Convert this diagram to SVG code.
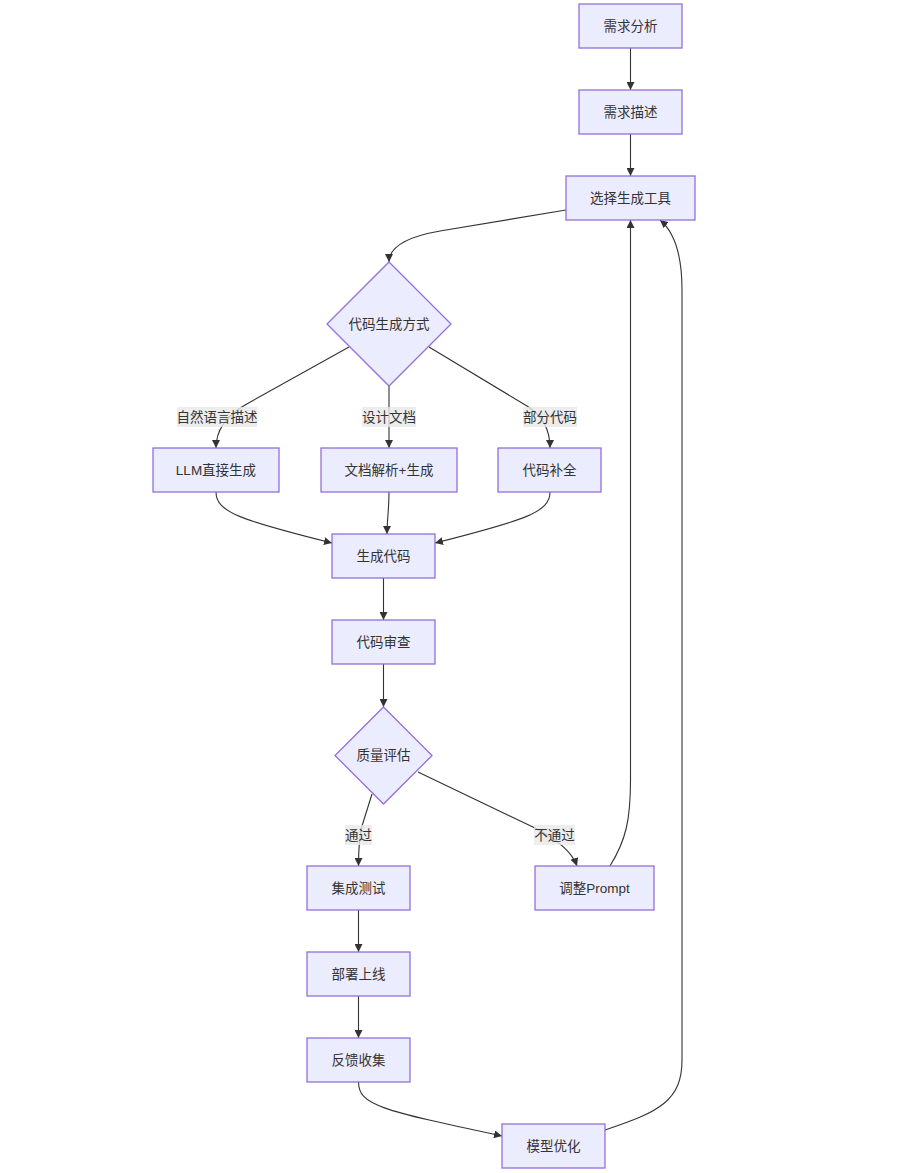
<svg xmlns="http://www.w3.org/2000/svg" width="907" height="1173" viewBox="0 0 907 1173">
<style>
.node rect,.node polygon{fill:#ECECFF;stroke:#9370DB;stroke-width:1.3}
text{font-family:"Liberation Sans","Noto Sans CJK SC",sans-serif;font-size:13.5px;fill:#333;text-anchor:middle;dominant-baseline:central}
.edge{fill:none;stroke:#333;stroke-width:1.1}
.lbl rect{fill:#e8e8e8;fill-opacity:0.8}
</style>
<defs>
<marker id="arr" viewBox="0 0 10 10" refX="10" refY="5" markerWidth="8" markerHeight="8" markerUnits="userSpaceOnUse" orient="auto">
<path d="M0,0 L10,5 L0,10 z" fill="#333"/>
</marker>
</defs>
<rect width="907" height="1173" fill="#fff"/>
<g id="connectors">
<path class="edge" marker-end="url(#arr)" d="M630.5,48 L630.5,90"/>
<path class="edge" marker-end="url(#arr)" d="M630.5,134 L630.5,176"/>
<path class="edge" marker-end="url(#arr)" d="M566,210 L440,231 Q389,240 389,262"/>
<path class="edge" marker-end="url(#arr)" d="M349,347 L245,405 Q216,422 216,448"/>
<path class="edge" marker-end="url(#arr)" d="M389,386 L389,448"/>
<path class="edge" marker-end="url(#arr)" d="M429,347 L527,406 Q550,420 550,448"/>
<path class="edge" marker-end="url(#arr)" d="M216,492 C216,512 240,520 332,543"/>
<path class="edge" marker-end="url(#arr)" d="M389,492 C389,510 387,520 387,534"/>
<path class="edge" marker-end="url(#arr)" d="M550,492 C550,512 526,520 435,543"/>
<path class="edge" marker-end="url(#arr)" d="M383.5,578 L383.5,620"/>
<path class="edge" marker-end="url(#arr)" d="M383.5,664 L383.5,707"/>
<path class="edge" marker-end="url(#arr)" d="M372,794 L362,826 Q358.5,840 358.5,866"/>
<path class="edge" marker-end="url(#arr)" d="M418,772 L535,828 Q570,846 577,866"/>
<path class="edge" marker-end="url(#arr)" d="M610,866 C626,840 630.5,820 630.5,780 L630.5,220"/>
<path class="edge" marker-end="url(#arr)" d="M358.5,910 L358.5,952"/>
<path class="edge" marker-end="url(#arr)" d="M358.5,996 L358.5,1038"/>
<path class="edge" marker-end="url(#arr)" d="M358.5,1082 C358.5,1105 380,1110 502,1136"/>
<path class="edge" marker-end="url(#arr)" d="M605,1130 C660,1112 682,1100 682,1060 L682,290 C682,250 672,230 660,220"/>
<g class="lbl"><rect x="177" y="407" width="80" height="20"/><text x="217" y="417">自然语言描述</text></g>
<g class="lbl"><rect x="362" y="407" width="54" height="20"/><text x="389" y="417">设计文档</text></g>
<g class="lbl"><rect x="523" y="407" width="54" height="20"/><text x="550" y="417">部分代码</text></g>
<g class="lbl"><rect x="345" y="825" width="27" height="20"/><text x="358.5" y="835">通过</text></g>
<g class="lbl"><rect x="534" y="825" width="41" height="20"/><text x="554.5" y="835">不通过</text></g>
</g>
<g id="n1" class="node"><rect x="579" y="4" width="103" height="44"/><text x="630.5" y="26">需求分析</text></g>
<g id="n2" class="node"><rect x="579" y="90" width="103" height="44"/><text x="630.5" y="112">需求描述</text></g>
<g id="n3" class="node"><rect x="566" y="176" width="129" height="44"/><text x="630.5" y="198">选择生成工具</text></g>
<g id="n4" class="node"><polygon points="389,262 451,324 389,386 327,324"/><text x="389" y="324">代码生成方式</text></g>
<g id="n5" class="node"><rect x="153" y="448" width="126" height="44"/><text x="216" y="470">LLM直接生成</text></g>
<g id="n6" class="node"><rect x="321" y="448" width="136" height="44"/><text x="389" y="470">文档解析+生成</text></g>
<g id="n7" class="node"><rect x="498" y="448" width="103" height="44"/><text x="549.5" y="470">代码补全</text></g>
<g id="n8" class="node"><rect x="332" y="534" width="103" height="44"/><text x="383.5" y="556">生成代码</text></g>
<g id="n9" class="node"><rect x="332" y="620" width="103" height="44"/><text x="383.5" y="642">代码审查</text></g>
<g id="n10" class="node"><polygon points="383.5,707 432,755.5 383.5,804 335,755.5"/><text x="383.5" y="755.5">质量评估</text></g>
<g id="n11" class="node"><rect x="307" y="866" width="103" height="44"/><text x="358.5" y="888">集成测试</text></g>
<g id="n12" class="node"><rect x="535" y="866" width="119" height="44"/><text x="594.5" y="888">调整Prompt</text></g>
<g id="n13" class="node"><rect x="307" y="952" width="103" height="44"/><text x="358.5" y="974">部署上线</text></g>
<g id="n14" class="node"><rect x="307" y="1038" width="103" height="44"/><text x="358.5" y="1060">反馈收集</text></g>
<g id="n15" class="node"><rect x="502" y="1124" width="103" height="44"/><text x="553.5" y="1146">模型优化</text></g>
</svg>
